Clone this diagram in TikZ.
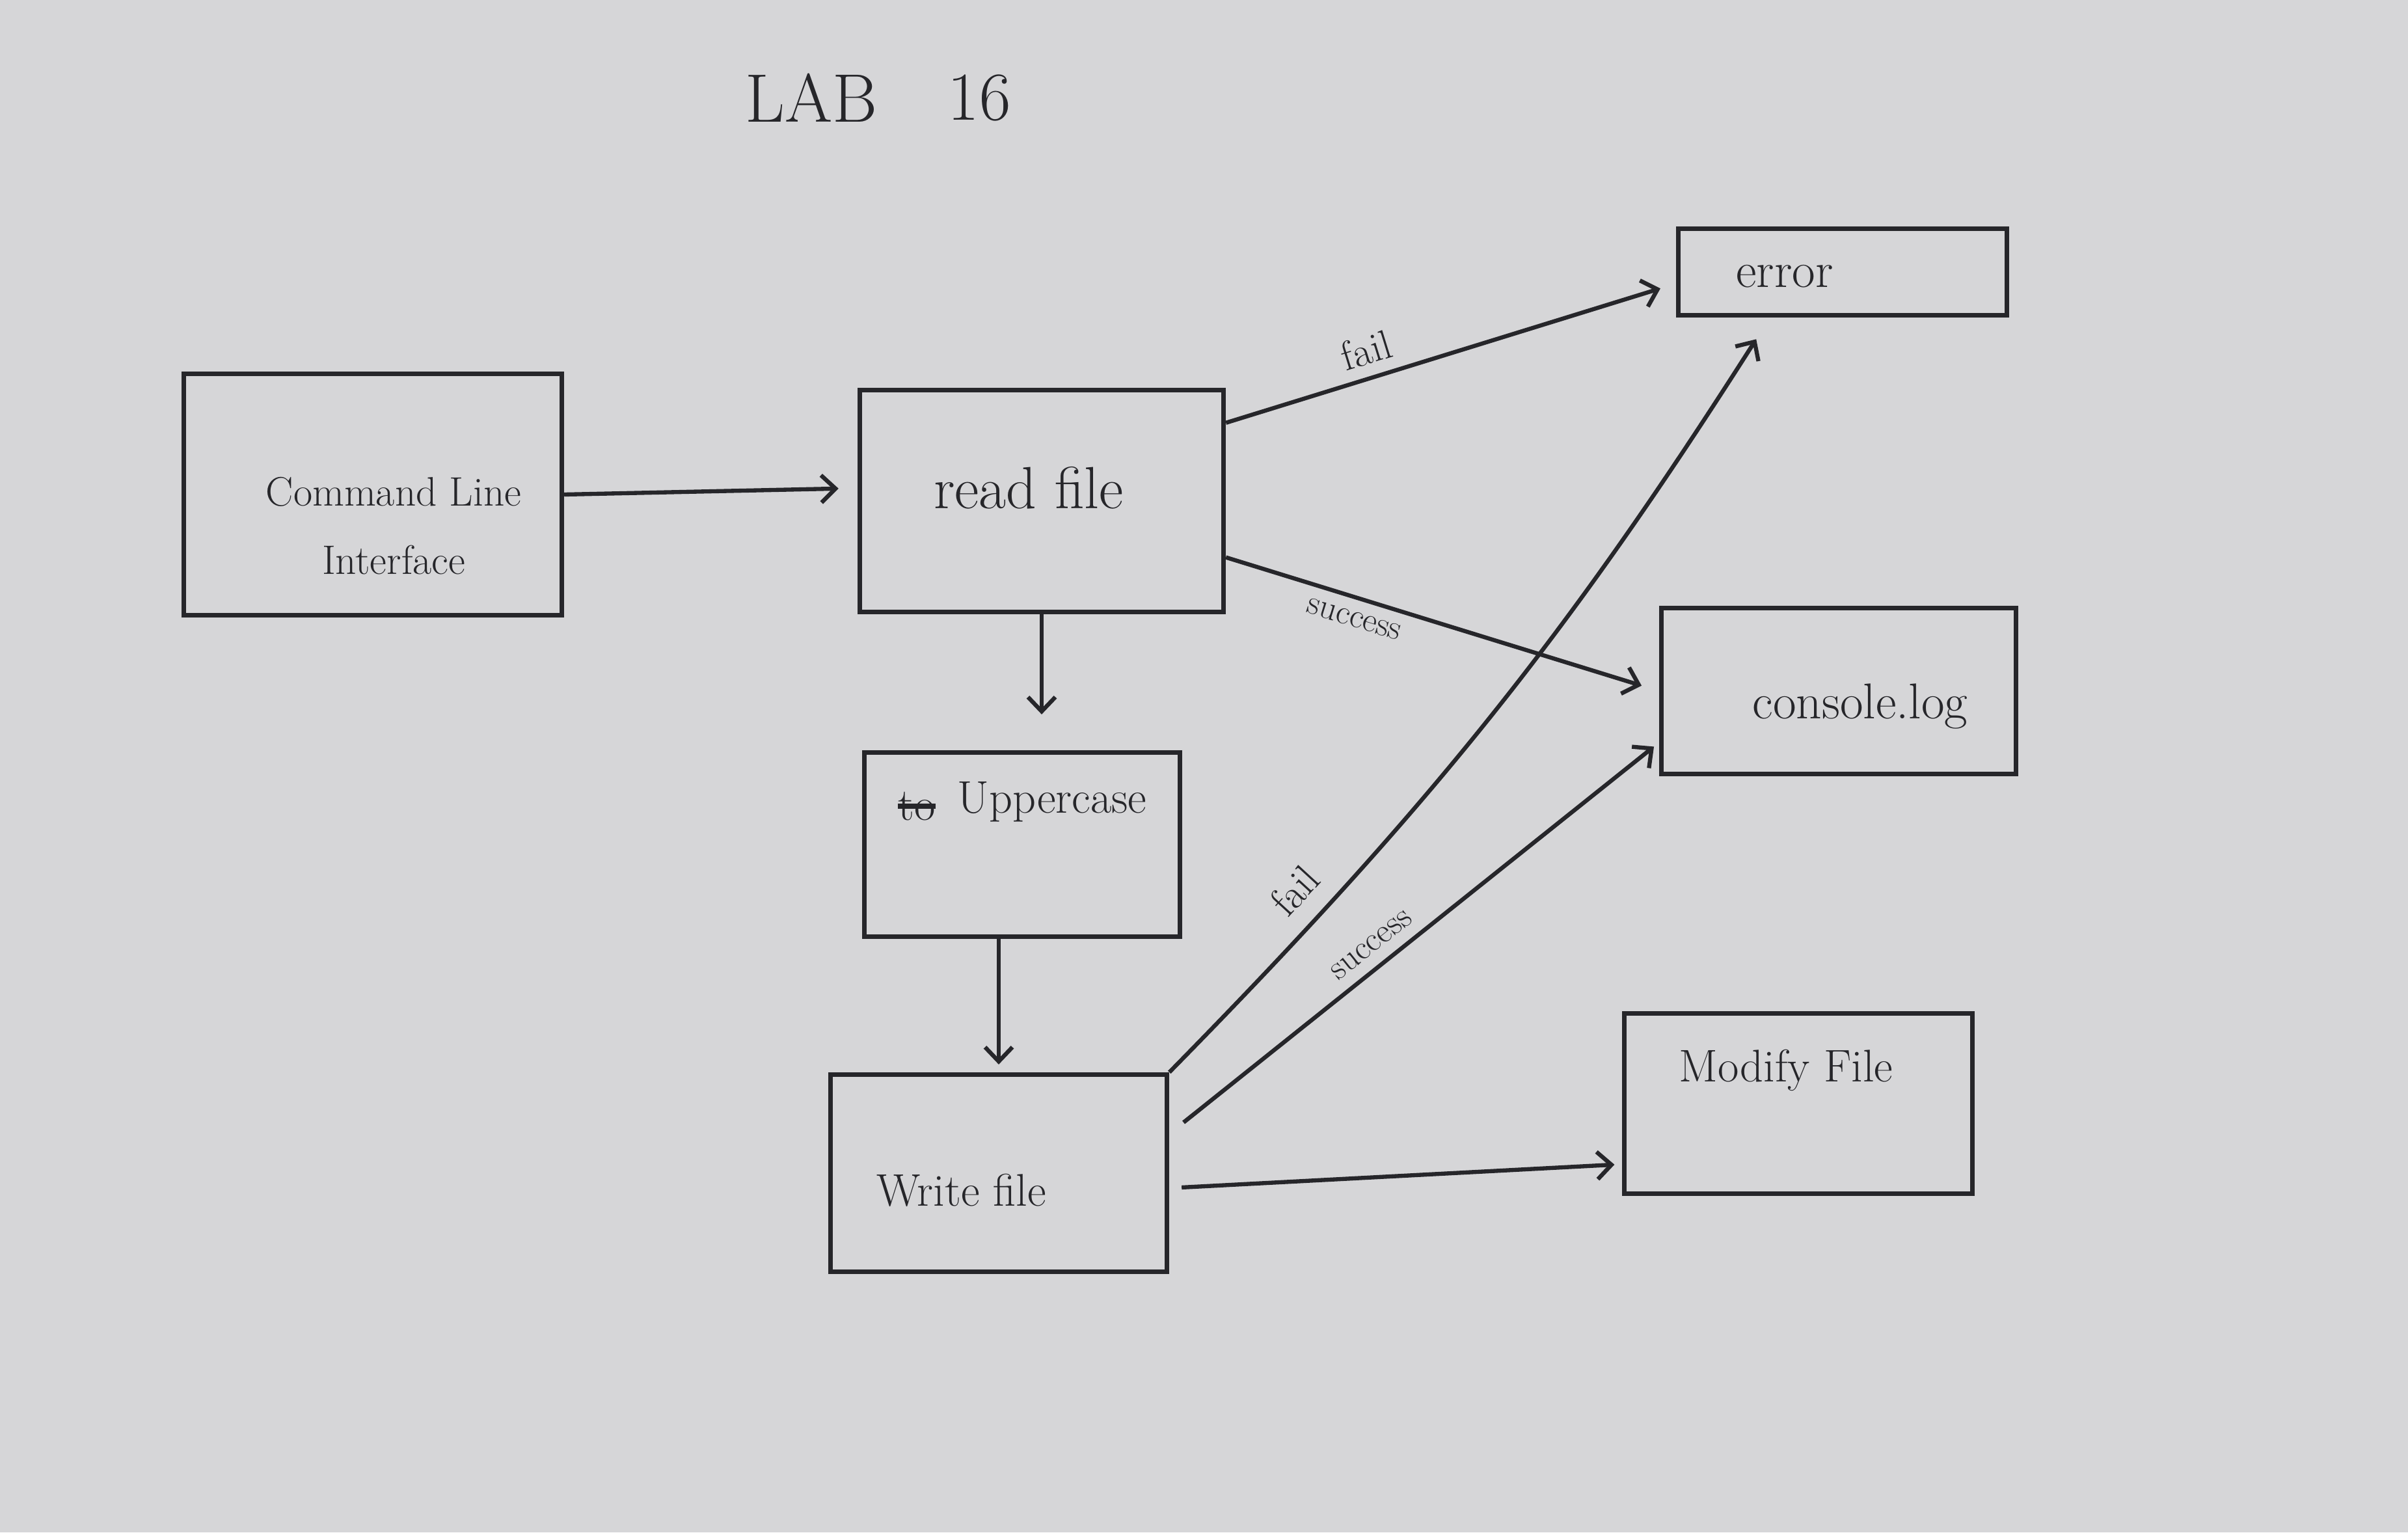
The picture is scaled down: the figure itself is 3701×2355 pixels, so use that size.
\documentclass[tikz,border=0pt]{standalone}
\usepackage{fontspec}
\usetikzlibrary{arrows.meta}
\definecolor{paper}{RGB}{214,214,216}
\definecolor{ink}{RGB}{38,38,42}
\tikzset{
  box/.style={draw=ink, line width=2pt, rectangle, inner sep=0pt},
  txt/.style={text=ink, inner sep=0pt, align=center},
  lbl/.style={text=ink, sloped, inner sep=5pt},
  conn/.style={draw=ink, line width=1.8pt, -{Straight Barb[length=0.22cm,width=0.42cm,line width=1.8pt]}},
}
\begin{document}
\begin{tikzpicture}[x=0.01cm,y=-0.01cm]
\fill[paper] (0,0) rectangle (3701,2355);
\useasboundingbox (0,0) rectangle (3701,2355);

% title
\node[txt, font=\fontsize{30}{34}\selectfont] (lab) at (1247,150) {LAB};
\node[txt, font=\fontsize{30}{34}\selectfont] (num) at (1505,150) {16};

% boxes
\node[box, minimum width=5.81cm, minimum height=3.70cm] (cli) at (573,760) {};
\node[box, minimum width=5.59cm, minimum height=3.40cm] (read) at (1601,770) {};
\node[box, minimum width=4.84cm, minimum height=2.83cm] (upper) at (1571,1298) {};
\node[box, minimum width=5.17cm, minimum height=3.03cm] (write) at (1535,1803) {};
\node[box, minimum width=5.05cm, minimum height=1.32cm] (error) at (2832,418) {};
\node[box, minimum width=5.45cm, minimum height=2.55cm] (console) at (2826,1062) {};
\node[box, minimum width=5.34cm, minimum height=2.76cm] (modify) at (2764,1696) {};

% texts
\node[txt, font=\fontsize{18}{30}\selectfont] (cliT) at (605,808) {Command Line\\Interface};
\node[txt, font=\fontsize{26}{30}\selectfont] (readT) at (1581,750) {read file};
\node[txt, font=\fontsize{20}{24}\selectfont] (toT) at (1409,1239) {to};
\draw[ink, line width=2.4pt] (toT.west) -- (toT.east);
\node[txt, font=\fontsize{20}{24}\selectfont] (upperT) at (1617,1232) {Uppercase};
\node[txt, font=\fontsize{20}{24}\selectfont] (writeT) at (1478,1829) {Write file};
\node[txt, font=\fontsize{22}{26}\selectfont] (errorT) at (2743,425) {error};
\node[txt, font=\fontsize{22}{26}\selectfont] (consoleT) at (2859,1086) {console.log};
\node[txt, font=\fontsize{20}{24}\selectfont] (modifyT) at (2745,1645) {Modify File};

% connectors
\draw[conn, shorten >=0.29cm] (cli.east) -- (read.176);
\draw[conn, shorten >=0.55cm] (read.south) -- (read.south |- upper.north);
\draw[conn, shorten >=0.12cm] (write.north |- upper.south) -- (write.north);

\draw[conn, shorten >=0.25cm] (read.23) -- (error.184)
  node[lbl, above, pos=0.33, font=\fontsize{18}{20}\selectfont] {fail};
\draw[conn, shorten >=0.28cm] (read.-17) -- (console.west)
  node[lbl, below, pos=0.31, font=\fontsize{15}{18}\selectfont] {success};

\draw[conn, shorten >=0.4cm] (write.north east) to[bend right=6]
  node[lbl, above, pos=0.21, inner sep=8pt, font=\fontsize{18}{20}\selectfont] {fail} (error.212);
\draw[conn, shorten <=0.28cm, shorten >=0.1cm] (write.13) -- (console.196)
  node[lbl, above, pos=0.44, font=\fontsize{15}{18}\selectfont] {success};
\draw[conn, shorten <=0.19cm, shorten >=0.12cm] (write.-5) -- (modify.199);
\end{tikzpicture}
\end{document}
